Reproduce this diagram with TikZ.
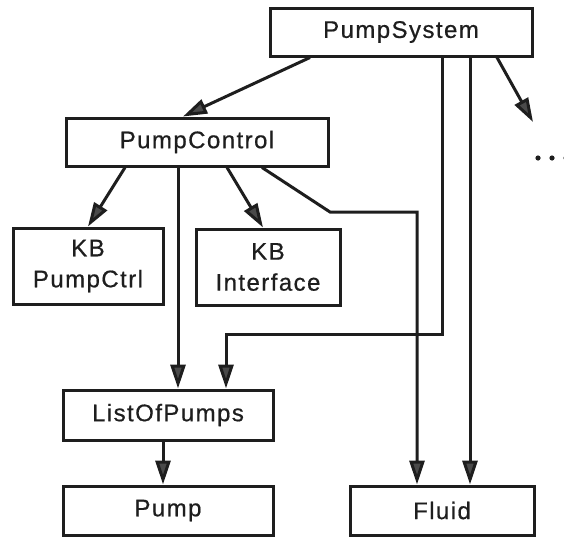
\documentclass[tikz,border=0pt]{standalone}
\usepackage{fontspec}
\setmainfont{Liberation Sans}[LetterSpace=6, FakeBold=0.6]
\usetikzlibrary{arrows.meta}
\definecolor{ink}{HTML}{1E1E1E}
\definecolor{tipgray}{HTML}{4A4A4A}

\begin{document}
\begin{tikzpicture}[x=1pt, y=-1pt,
  cls/.style={draw=ink, text=ink, line width=3pt, fill=white, inner sep=0pt,
    align=center, font=\fontsize{24}{31}\selectfont},
  link/.style={draw=ink, line width=3pt, line join=miter,
    -{Triangle[length=24pt, width=15pt, fill=tipgray]}}]
\useasboundingbox (0,0) rectangle (564,536);

% classes
\node[cls, minimum width=262pt, minimum height=48pt] (sys)   at (401,32)    {PumpSystem};
\node[cls, minimum width=262pt, minimum height=48pt] (ctl)   at (197,142)   {PumpControl};
\node[cls, minimum width=150pt, minimum height=76pt] (kbp)   at (88,266)    {KB\\PumpCtrl};
\node[cls, minimum width=144pt, minimum height=76pt] (kbi)   at (268,267)   {KB\\Interface};
\node[cls, minimum width=210pt, minimum height=50pt] (lop)   at (168,415)   {ListOfPumps};
\node[cls, minimum width=210pt, minimum height=49pt] (pump)  at (168,510.5) {Pump};
\node[cls, minimum width=184pt, minimum height=49pt] (fluid) at (442,510.5) {Fluid};

% further parts, elided
\coordinate (more) at (533,122);
\fill[ink] (538,158) circle (2.6pt) (552,158) circle (2.6pt) (566,158) circle (2.6pt);

% containment links
\draw[link] ([xshift=-91pt]sys.south) -- ([xshift=-14pt]ctl.north);
\draw[link] ([xshift=96pt]sys.south) -- (more);
\draw[link] ([xshift=-72pt]ctl.south) -- (kbp.north);
\draw[link] ([xshift=30pt]ctl.south) -- ([xshift=-5pt]kbi.north);
\draw[link] ([xshift=-19pt]ctl.south) -- ([xshift=10pt]lop.north);
\draw[link] ([xshift=65pt]ctl.south) -- (330,212) -| ([xshift=-25pt]fluid.north);
\draw[link] ([xshift=41pt]sys.south) |- (226,334) -- ([xshift=58pt]lop.north);
\draw[link] ([xshift=69pt]sys.south) -- ([xshift=28pt]fluid.north);
\draw[link] ([xshift=-5pt]lop.south) -- ([xshift=-5pt]pump.north);
\end{tikzpicture}
\end{document}
